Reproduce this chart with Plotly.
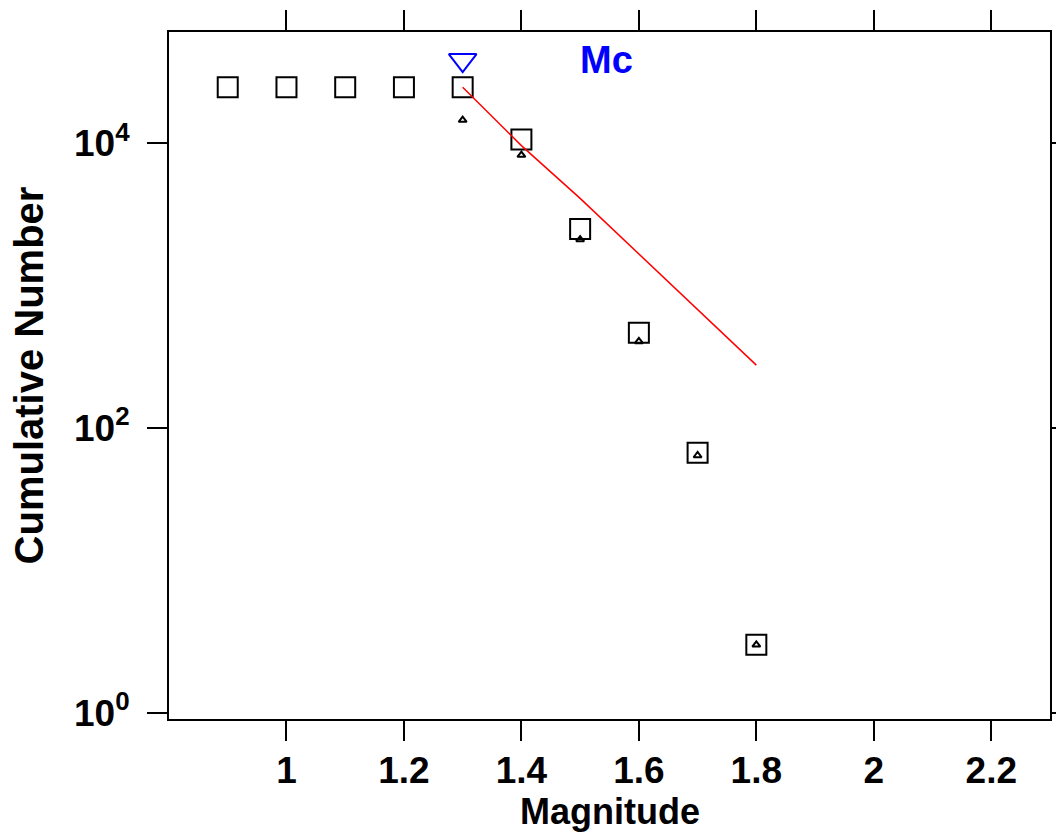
import plotly.graph_objects as go

# Data
magnitudes = [0.9, 1.0, 1.1, 1.2, 1.3, 1.4, 1.5, 1.6, 1.7, 1.8]
cumulative_number = [24700, 24700, 24700, 24700, 24700, 10600, 2490, 466, 67, 3]

noncum_mag = [1.3, 1.4, 1.5, 1.6, 1.7, 1.8]
noncum_number = [14500, 8240, 2100, 405, 64, 3]

fit_mag = [1.3, 1.4, 1.5, 1.6, 1.7, 1.8]
fit_number = [24700, 9600, 4090, 1667, 678, 276]

mc_mag = [1.3]
mc_number = [38300]

x_tickvals = [1.0, 1.2, 1.4, 1.6, 1.8, 2.0, 2.2]
x_ticktext = ["1", "1.2", "1.4", "1.6", "1.8", "2", "2.2"]
y_tickvals = [1, 100, 10000]
y_ticktext = ["10<sup>0</sup>", "10<sup>2</sup>", "10<sup>4</sup>"]

FONT = "Liberation Sans, Arial, sans-serif"

fig = go.Figure()

fig.add_trace(go.Scatter(
    x=magnitudes, y=cumulative_number, mode="markers",
    marker=dict(symbol="square-open", size=20, color="black", line=dict(width=2)),
    showlegend=False, hoverinfo="skip"))

fig.add_trace(go.Scatter(
    x=noncum_mag, y=noncum_number, mode="markers",
    marker=dict(symbol="triangle-up-open", size=7, color="black", line=dict(width=2)),
    showlegend=False, hoverinfo="skip"))

fig.add_trace(go.Scatter(
    x=fit_mag, y=fit_number, mode="lines",
    line=dict(color="red", width=1.5),
    showlegend=False, hoverinfo="skip"))

fig.add_trace(go.Scatter(
    x=mc_mag, y=mc_number, mode="markers",
    marker=dict(symbol="triangle-down-open", size=24, color="blue", line=dict(width=2)),
    showlegend=False, hoverinfo="skip"))

fig.add_annotation(
    x=1.545, y=4.583, xref="x", yref="y", text="Mc", showarrow=False,
    font=dict(family=FONT, size=38, color="blue", weight="bold"))

# x-axis title as a paper-positioned annotation (precise placement)
fig.add_annotation(
    x=0.5, y=-0.166, xref="paper", yref="paper", xanchor="center", yanchor="bottom",
    text="Magnitude", showarrow=False, borderpad=0,
    font=dict(family=FONT, size=36, color="black", weight="bold"))

axis_common = dict(
    showline=True, linewidth=2, linecolor="black", mirror="ticks",
    ticks="outside", ticklen=20, tickwidth=2, tickcolor="black",
    showgrid=False, zeroline=False, automargin=False,
    tickfont=dict(family=FONT, size=37, color="black", weight="bold"),
)

fig.update_xaxes(
    range=[0.8, 2.3], tickmode="array", tickvals=x_tickvals, ticktext=x_ticktext,
    ticklabelstandoff=-2,
    **axis_common)

fig.update_yaxes(
    type="log", range=[-0.044, 4.78], tickmode="array", tickvals=y_tickvals, ticktext=y_ticktext,
    ticklabelstandoff=10,
    title=dict(text="Cumulative Number", font=dict(family=FONT, size=40, color="black", weight="bold"),
               standoff=18),
    **axis_common)

fig.update_layout(
    width=1056, height=834,
    margin=dict(l=169, r=6, t=32, b=115),
    plot_bgcolor="white", paper_bgcolor="white",
)

fig.write_html("out.html")
